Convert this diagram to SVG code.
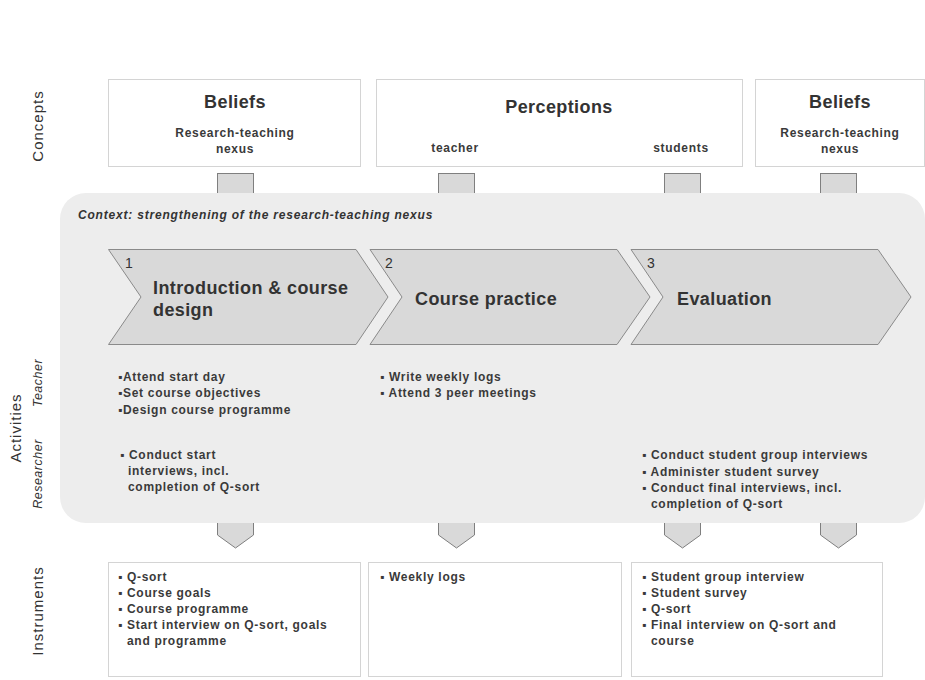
<svg xmlns="http://www.w3.org/2000/svg" width="925" height="680" viewBox="0 0 925 680">
<style>
text{font-family:"Liberation Sans",Arial,"DejaVu Sans",sans-serif;fill:#333333}
.box{fill:#ffffff;stroke:#d4d4d4;stroke-width:1}
.tab{fill:#d9d9d9;stroke:#7f7f7f;stroke-width:1}
.chev{fill:#d9d9d9;stroke:#8a8a8a;stroke-width:1}
.h{font-size:18px;font-weight:bold;letter-spacing:0.4px}
.sub{font-size:12px;font-weight:bold;letter-spacing:0.7px;fill:#3a3a3a}
.b{font-size:12px;font-weight:bold;letter-spacing:0.7px;fill:#3a3a3a}
.side{font-size:15px;letter-spacing:1px}
.role{font-size:12.5px;font-style:italic;letter-spacing:0.5px}
.num{font-size:14px}
</style>
<rect width="925" height="680" fill="#ffffff"/>

<g id="side-labels">
<text class="side" transform="translate(43,126) rotate(-90)" text-anchor="middle">Concepts</text>
<text class="side" transform="translate(21,428) rotate(-90)" text-anchor="middle">Activities</text>
<text class="role" transform="translate(42,383) rotate(-90)" text-anchor="middle">Teacher</text>
<text class="role" transform="translate(42,474) rotate(-90)" text-anchor="middle">Researcher</text>
<text class="side" transform="translate(43,611) rotate(-90)" text-anchor="middle">Instruments</text>
</g>

<g id="concept-beliefs-1">
<rect class="box" x="108.5" y="79.5" width="252" height="87"/>
<text class="h" x="235" y="108" text-anchor="middle">Beliefs</text>
<text class="sub" x="235" y="137" text-anchor="middle">Research-teaching</text>
<text class="sub" x="235" y="153" text-anchor="middle">nexus</text>
</g>
<g id="concept-perceptions">
<rect class="box" x="376.5" y="79.5" width="366" height="87"/>
<text class="h" x="559" y="113" text-anchor="middle">Perceptions</text>
<text class="sub" x="455" y="152" text-anchor="middle">teacher</text>
<text class="sub" x="681" y="152" text-anchor="middle">students</text>
</g>
<g id="concept-beliefs-2">
<rect class="box" x="755.5" y="79.5" width="169" height="87"/>
<text class="h" x="840" y="108" text-anchor="middle">Beliefs</text>
<text class="sub" x="840" y="137" text-anchor="middle">Research-teaching</text>
<text class="sub" x="840" y="153" text-anchor="middle">nexus</text>
</g>

<g id="connectors">
<rect class="tab" x="217.5" y="173.5" width="36" height="30"/>
<rect class="tab" x="438.5" y="173.5" width="36" height="30"/>
<rect class="tab" x="664.5" y="173.5" width="36" height="30"/>
<rect class="tab" x="820.5" y="173.5" width="36" height="30"/>
<path class="tab" d="M217.5,512 V535 L235.5,548 L253.5,535 V512 Z"/>
<path class="tab" d="M438.5,512 V535 L456.5,548 L474.5,535 V512 Z"/>
<path class="tab" d="M664.5,512 V535 L682.5,548 L700.5,535 V512 Z"/>
<path class="tab" d="M820.5,512 V535 L838.5,548 L856.5,535 V512 Z"/>
</g>

<g id="context">
<rect x="60" y="193" width="865" height="330" rx="26" ry="26" fill="#ededed"/>
<text x="78" y="219" font-size="12" font-weight="bold" font-style="italic" letter-spacing="0.8" fill="#1a1a1a">Context: strengthening of the research-teaching nexus</text>
</g>

<g id="phase-1">
<path class="chev" d="M108.5,249.5 L356,249.5 L388,297 L356,344.5 L108.5,344.5 L141,297 Z"/>
<text class="num" x="125" y="268">1</text>
<text class="h" x="153" y="294">Introduction &amp; course</text>
<text class="h" x="153" y="316">design</text>
</g>
<g id="phase-2">
<path class="chev" d="M370,249.5 L617,249.5 L650,297 L617,344.5 L370,344.5 L402,297 Z"/>
<text class="num" x="385" y="268">2</text>
<text class="h" x="415" y="305">Course practice</text>
</g>
<g id="phase-3">
<path class="chev" d="M631,249.5 L878,249.5 L911,297 L878,344.5 L631,344.5 L663,297 Z"/>
<text class="num" x="647" y="268">3</text>
<text class="h" x="677" y="305">Evaluation</text>
</g>

<g id="teacher-activities-1">
<text class="b" x="118" y="381">▪Attend start day</text>
<text class="b" x="118" y="397">▪Set course objectives</text>
<text class="b" x="118" y="414">▪Design course programme</text>
</g>
<g id="teacher-activities-2">
<text class="b" x="380" y="381">▪ Write weekly logs</text>
<text class="b" x="380" y="397">▪ Attend 3 peer meetings</text>
</g>
<g id="researcher-activities-1">
<text class="b" x="120" y="459">▪ Conduct start</text>
<text class="b" x="128" y="475">interviews, incl.</text>
<text class="b" x="128" y="491">completion of Q-sort</text>
</g>
<g id="researcher-activities-3">
<text class="b" x="642" y="459">▪ Conduct student group interviews</text>
<text class="b" x="642" y="476">▪ Administer student survey</text>
<text class="b" x="642" y="492">▪ Conduct final interviews, incl.</text>
<text class="b" x="651" y="508">completion of Q-sort</text>
</g>

<g id="instruments-1">
<rect class="box" x="108.5" y="562.5" width="252" height="114"/>
<text class="b" x="118" y="581">▪ Q-sort</text>
<text class="b" x="118" y="597">▪ Course goals</text>
<text class="b" x="118" y="613">▪ Course programme</text>
<text class="b" x="118" y="629">▪ Start interview on Q-sort, goals</text>
<text class="b" x="127" y="645">and programme</text>
</g>
<g id="instruments-2">
<rect class="box" x="368.5" y="562.5" width="253" height="114"/>
<text class="b" x="380" y="581">▪ Weekly logs</text>
</g>
<g id="instruments-3">
<rect class="box" x="631.5" y="562.5" width="251" height="114"/>
<text class="b" x="642" y="581">▪ Student group interview</text>
<text class="b" x="642" y="597">▪ Student survey</text>
<text class="b" x="642" y="613">▪ Q-sort</text>
<text class="b" x="642" y="629">▪ Final interview on Q-sort and</text>
<text class="b" x="651" y="645">course</text>
</g>
</svg>
